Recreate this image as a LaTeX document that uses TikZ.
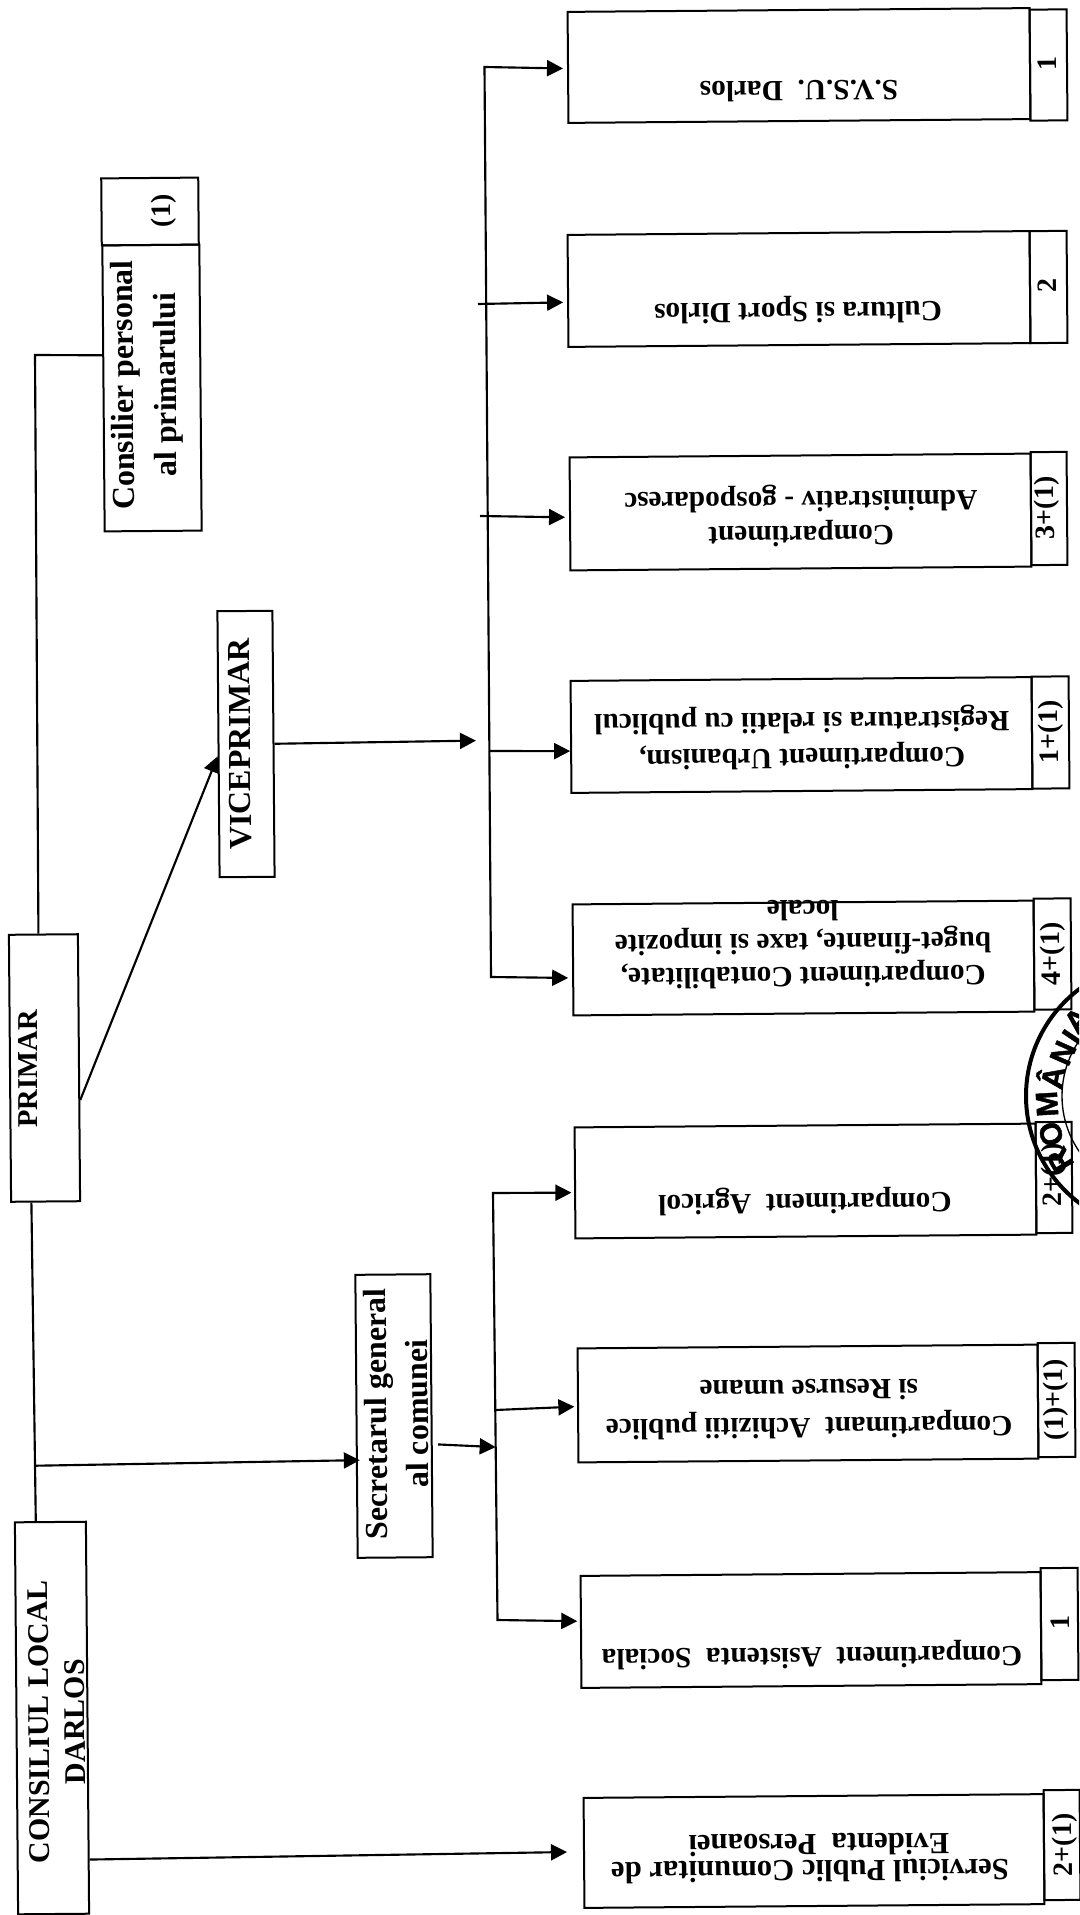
\documentclass[tikz,border=0pt]{standalone}
\usepackage{fontspec}
\setmainfont{Liberation Serif}
\newfontfamily\stampfont[BoldFeatures={FakeBold=1.5}]{Liberation Sans}
\usetikzlibrary{arrows.meta,calc}
\newcommand{\tilt}{0.47}
\newcommand{\txtsize}[2]{\bfseries\fontsize{#1}{#2}\selectfont}
\tikzset{
  boxbase/.style={draw=black,line width=1.5pt,inner sep=0pt,rotate=\tilt},
  sized/.style n args={2}{boxbase,minimum width=#1*0.75pt,minimum height=#2*0.75pt},
  upside/.style={inner sep=0pt,align=center,rotate=180+\tilt,font=\txtsize{22}{#1}},
  upside/.default=26pt,
  sideways/.style={inner sep=0pt,align=center,rotate=90+\tilt,font=\txtsize{21}{25}},
  sideword/.style 2 args={inner sep=0pt,align=center,rotate=90+\tilt,font=\txtsize{#1}{#2}},
  conn/.style={draw=black,line width=1.6pt},
  tipped/.style={conn,-{Triangle[length=12pt,width=12pt]}},
  stampline/.style={draw=black},
  stampletter/.style={inner sep=0pt,font=\stampfont\bfseries\fontsize{23}{25}\selectfont}
}
\begin{document}
\begin{tikzpicture}[x=0.75pt,y=-0.75pt]
\useasboundingbox[fill=white] (0,0) rectangle (1079,1915);

% right column
\node[sized={462}{111}] (svsu) at (799,65.5) {};
\node[sized={37}{111}] (svsuN) at (1048.5,65) {};
\node[upside] (svsuT) at (799,91) {S.V.S.U.\ \ Darlos};
\node[sideways] (svsuC) at (1047,64) {1};

\node[sized={462}{112}] (cult) at (799,289) {};
\node[sized={37}{112}] (cultN) at (1048.5,287) {};
\node[upside] (cultT) at (798,310) {Cultura si Sport Dirlos};
\node[sideways] (cultC) at (1047,286) {2};

\node[sized={461}{113}] (admin) at (800.5,512) {};
\node[sized={36}{113}] (adminN) at (1049,508.5) {};
\node[upside=26pt] (adminT) at (801,516) {Compartiment\\Administrativ - gospodaresc};
\node[sideways] (adminC) at (1047,508) {3+(1)};

\node[sized={461}{112}] (urb) at (801.5,735) {};
\node[sized={37}{112}] (urbN) at (1050.5,732.5) {};
\node[upside=27pt] (urbT) at (802,738) {Compartiment Urbanism,\\Registratura si relatii cu publicul};
\node[sideways] (urbC) at (1051,732) {1+(1)};

\node[sized={461}{111}] (cont) at (803.5,958) {};
\node[sized={37}{111}] (contN) at (1052.5,954) {};
\node[upside=25pt] (contT) at (803,944) {Compartiment Contabilitate,\\buget-finante, taxe si impozite\\locale};
\node[sideways] (contC) at (1053,954) {4+(1)};

\node[sized={461}{111}] (agr) at (805.5,1181) {};
\node[sized={36}{111}] (agrN) at (1054,1177.5) {};
\node[upside] (agrT) at (805,1201) {Compartiment\ \ Agricol};
\node[sideways] (agrC) at (1054,1175) {2+(1)};

\node[sized={460}{114}] (achiz) at (808,1403.5) {};
\node[sized={37}{114}] (achizN) at (1056.5,1400) {};
\node[upside=28.5pt] (achizT) at (809,1409) {Compartimant\ \ Achizitii publice\\si Resurse umane};
\node[sideways] (achizC) at (1056,1399.5) {(1)+(1)};

\node[sized={460}{112}] (asist) at (811,1630) {};
\node[sized={37}{112}] (asistN) at (1059.5,1624) {};
\node[upside] (asistT) at (812,1655) {Compartiment\ \ Asistenta\ \ Sociala};
\node[sideways] (asistC) at (1060,1623) {1};

\node[sized={460}{110}] (serv) at (814,1851) {};
\node[sized={36}{110}] (servN) at (1062,1845) {};
\node[upside=20pt,font=\txtsize{23}{20pt}] (servT) at (810,1858) {Serviciul Public Comunitar de\\Evidenta\ \ Persoanei\hspace*{13.5pt}};
\node[sideways] (servC) at (1065,1845) {2+(1)};

% left column
\node[sized={97}{286}] (cons) at (152,388) {};
\node[sized={97}{67}] (consN) at (150,211.5) {};
\node[sideword={24}{32pt}] (consT) at (147,385) {Consilier personal\\al primarului};
\node[sideways] (consC) at (164,211) {(1)};

\node[sized={55}{266}] (vice) at (246,744) {};
\node[sideword={24}{28pt}] (viceT) at (240,744) {VICEPRIMAR};

\node[sized={69}{267}] (prim) at (44.5,1068) {};
\node[sideword={21.5}{25pt}] (primT) at (28,1069) {PRIMAR};

\node[sized={75}{283}] (secr) at (394,1416) {};
\node[sideword={24}{31pt}] (secrT) at (396.5,1414) {Secretarul general\\al comunei};

\node[sized={71}{392}] (cl) at (52,1718) {};
\node[sideword={22.5}{27pt}] (clT) at (57,1722) {CONSILIUL LOCAL\\DARLOS};

% trunks and attachment points
\coordinate (t1t) at (484.5,67);
\coordinate (t1b) at (491,977);
\coordinate (t2t) at (493,1193);
\coordinate (t2b) at (497.5,1620);
\coordinate (cultS) at (478,304);
\coordinate (adminS) at (480,516);
\coordinate (urbS) at (489,751);
\coordinate (achizS) at (495.5,1410);
\coordinate (consBend) at (35,355);

% connectors
\draw[conn] ($(cons.north west)!0.385!(cons.south west)$) -- (consBend) -- ($(prim.north west)!0.43!(prim.north east)$);
\draw[tipped] ($(prim.north east)!0.62!(prim.south east)$) -- ($(vice.north west)!0.545!(vice.south west)$);
\draw[tipped,shorten >=10pt] ($(vice.north east)!0.5!(vice.south east)$) -- ($(t1t)!0.74!(t1b)$);
\draw[conn,{Triangle[length=12pt,width=12pt]}-{Triangle[length=12pt,width=12pt]},shorten <=3pt,shorten >=3pt]
  ($(cont.north west)!0.66!(cont.south west)$) -- (t1b) -- (t1t) -- ($(svsu.north west)!0.51!(svsu.south west)$);
\draw[tipped,shorten >=3pt] (cultS) -- ($(cult.north west)!0.6!(cult.south west)$);
\draw[tipped,shorten >=3pt] (adminS) -- ($(admin.north west)!0.53!(admin.south west)$);
\draw[tipped] (urbS) -- ($(urb.north west)!0.625!(urb.south west)$);

\draw[conn] ($(prim.south west)!0.3!(prim.south east)$) -- ($(cl.north west)!0.3!(cl.north east)$);
\draw[tipped,shorten >=-3pt] ($($(prim.south west)!0.3!(prim.south east)$)!0.826!($(cl.north west)!0.3!(cl.north east)$)$) -- ($(secr.north west)!0.654!(secr.south west)$);
\draw[tipped,shorten <=4pt] ($(secr.north east)!0.6!(secr.south east)$) -- ($(t2t)!0.595!(t2b)$);
\draw[conn,{Triangle[length=12pt,width=12pt]}-{Triangle[length=12pt,width=12pt]},shorten <=2pt,shorten >=2pt]
  ($(agr.north west)!0.586!(agr.south west)$) -- (t2t) -- (t2b) -- ($(asist.north west)!0.406!(asist.south west)$);
\draw[tipped,shorten >=2pt] (achizS) -- ($(achiz.north west)!0.51!(achiz.south west)$);
\draw[tipped,shorten >=12pt] ($(cl.north east)!0.86!(cl.south east)$) -- ($(serv.north west)!0.49!(serv.south west)$);

% stamp
\begin{scope}
\clip (0,0) rectangle (1079,1915);
\coordinate (stampC) at (1160,1096);
\draw[stampline,line width=3pt] (stampC) circle [radius=134];
\draw[stampline,line width=1pt] (stampC) circle [radius=98];
\node[stampletter,rotate=121] (s1) at (1060,1160) {R};
\node[stampletter,rotate=109] (s2) at (1051,1134) {O};
\node[stampletter,rotate=93.5] (s3) at (1047,1104) {M};
\node[stampletter,rotate=80] (s4) at (1050,1077) {Â};
\node[stampletter,rotate=66] (s5) at (1063,1053) {N};
\node[stampletter,rotate=56] (s6) at (1072,1037) {I};
\node[stampletter,rotate=49] (s7) at (1077,1020) {A};
\end{scope}
\end{tikzpicture}
\end{document}
